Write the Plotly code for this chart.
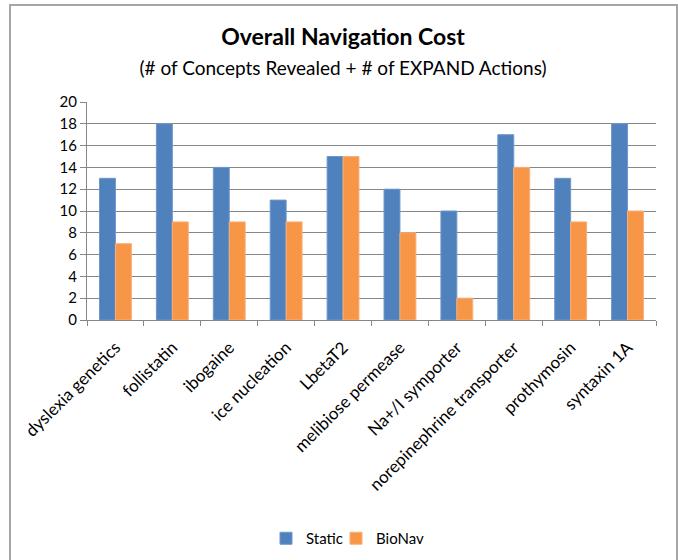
import plotly.graph_objects as go

categories = ["dyslexia genetics", "follistatin", "ibogaine", "ice nucleation", "LbetaT2",
              "melibiose permease", "Na+/I symporter", "norepinephrine transporter",
              "prothymosin", "syntaxin 1A"]
static_vals = [13, 18, 14, 11, 15, 12, 10, 17, 13, 18]
bionav_vals = [7, 9, 9, 9, 15, 8, 2, 14, 9, 10]

FONT = "Lato"
fig = go.Figure()
fig.add_trace(go.Bar(x=categories, y=static_vals, name="Static", legend="legend", showlegend=True,
                     marker=dict(color="#4F81BD", line=dict(color="#6E97CC", width=1))))
fig.add_trace(go.Bar(x=categories, y=bionav_vals, name="BioNav", legend="legend2", showlegend=True,
                     marker=dict(color="#F79646", line=dict(color="#FAB07A", width=1))))

L, R, T, B = 87, 22, 102, 240
W, H = 678, 560
pw, ph = W - L - R, H - T - B
def px(x): return (x - L) / pw
def py(y): return (H - B - y) / ph

leg_common = dict(orientation="h", xanchor="left", xref="container", y=1 - 522 / H, yref="container",
                  yanchor="top", font=dict(family=FONT, size=15), itemwidth=30,
                  bgcolor="rgba(0,0,0,0)", visible=True)

fig.update_layout(
    width=W, height=H,
    showlegend=True,
    margin=dict(l=L, r=R, t=T, b=B),
    paper_bgcolor="white", plot_bgcolor="white",
    font=dict(family=FONT, color="black", size=14),
    barmode="group", bargap=0.44, bargroupgap=0,
    title=dict(text="<b>Overall Navigation Cost</b><br><span style='font-size:19px'>(# of Concepts Revealed + # of EXPAND Actions)</span>",
               x=343 / W, xanchor="center", xref="container", y=1 - 45 / H, yanchor="top", yref="container",
               font=dict(family=FONT, size=23, color="black")),
    legend=dict(x=266 / W, **leg_common),
    legend2=dict(x=336 / W, **leg_common),
    xaxis=dict(showline=True, linecolor="#868686", linewidth=1, ticks="outside", ticklen=5,
               tickcolor="#868686", tickson="boundaries", showgrid=False, tickangle=-45,
               ticklabelstandoff=10, tickfont=dict(family=FONT, size=17)),
    yaxis=dict(range=[0, 20], dtick=2, showgrid=True, gridcolor="#868686", gridwidth=1,
               showline=True, linecolor="#868686", ticks="outside", ticklen=6, tickcolor="#868686",
               zeroline=False, tickfont=dict(family=FONT, size=15)),
    shapes=[dict(type="rect", xref="paper", yref="paper", x0=px(10), x1=px(677), y0=py(600), y1=py(5),
                 line=dict(color="#A6A6A6", width=2), fillcolor="rgba(0,0,0,0)", layer="below")],
)
fig.write_html("out.html")
